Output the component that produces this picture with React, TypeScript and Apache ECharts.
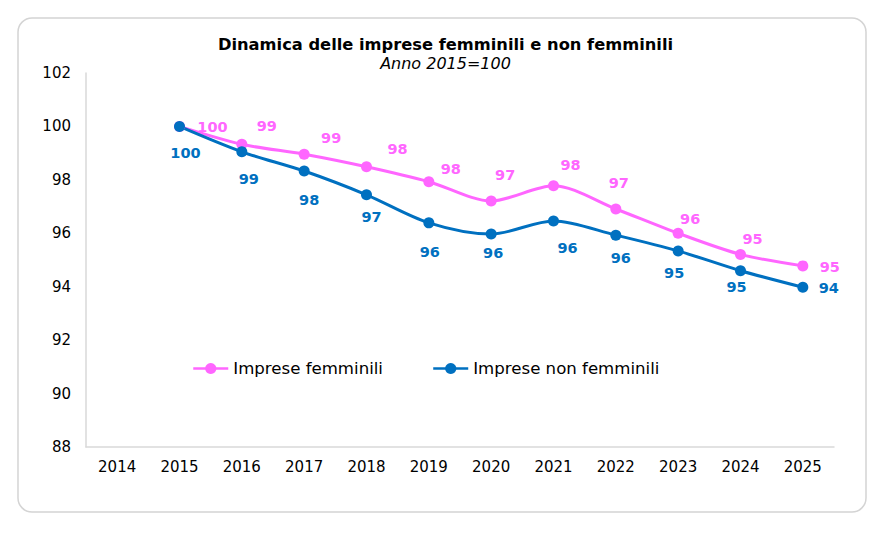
import React, { useEffect, useRef } from "react";
import * as echarts from "echarts";

const categories = ["2014", "2015", "2016", "2017", "2018", "2019", "2020", "2021", "2022", "2023", "2024", "2025"];
const femminili = [null, 100, 99.33, 98.96, 98.49, 97.93, 97.21, 97.78, 96.91, 96.0, 95.21, 94.78];
const nonFemminili = [null, 100, 99.05, 98.33, 97.44, 96.39, 95.97, 96.46, 95.93, 95.34, 94.6, 93.98];
const yTicks = { min: 88, max: 102, interval: 2 };

// label offsets relative to each point (style only)
const femLabelOffsets = [[0, 0], [33, 1], [25, -18], [27, -16], [31, -18], [22, -13], [14, -26], [17, -21], [3, -26], [12, -14], [12, -15], [27, 1]];
const nonLabelOffsets = [[0, 0], [6, 27], [7, 27], [5, 29], [5, 22], [1, 29], [2, 19], [14, 27], [5, 23], [-4, 22], [-4, 16], [26, 1]];

const PINK = "#FF66FF";
const BLUE = "#0070C0";
const FONT = "DejaVu Sans";

function buildData(values: (number | null)[], offsets: number[][], color: string) {
  return values.map((v, i) =>
    v === null
      ? "-"
      : {
          value: v,
          label: {
            show: true,
            position: "inside",
            offset: offsets[i],
            color,
            fontFamily: FONT,
            fontWeight: "bold",
            fontSize: 14.5,
            align: "center",
            verticalAlign: "middle",
            formatter: (p: any) => String(Math.round(p.value)),
          },
        }
  );
}

export default function App() {
  const ref = useRef<HTMLDivElement>(null);
  useEffect(() => {
    if (!ref.current) return;
    const chart = echarts.init(ref.current, null, { renderer: "svg" });
    chart.setOption({
      animation: false,
      backgroundColor: "#ffffff",
      textStyle: { fontFamily: FONT },
      graphic: [
        {
          type: "rect",
          shape: { x: 18, y: 18, width: 848, height: 494, r: 14 },
          style: { fill: "none", stroke: "#d4d4d4", lineWidth: 1.5 },
          silent: true,
        },
      ],
      title: {
        text: "Dinamica delle imprese femminili e non femminili",
        subtext: "Anno 2015=100",
        left: "center",
        top: 31,
        itemGap: 3,
        textStyle: { fontFamily: FONT, fontWeight: "bold", fontSize: 16.3, color: "#000" },
        subtextStyle: { fontFamily: FONT, fontStyle: "italic", fontSize: 16, color: "#000" },
      },
      legend: {
        left: 187,
        top: 355,
        itemWidth: 35,
        itemHeight: 14,
        itemGap: 49,
        lineStyle: { width: 2.5 },
        textStyle: { fontFamily: FONT, fontSize: 16.6, color: "#000" },
        data: ["Imprese femminili", "Imprese non femminili"],
      },
      grid: { left: 86, right: 57, top: 73, bottom: 87 },
      xAxis: {
        type: "category",
        data: categories,
        boundaryGap: true,
        axisLine: { lineStyle: { color: "#d9d9d9", width: 1.5 } },
        axisTick: { show: false },
        axisLabel: { color: "#000", fontFamily: FONT, fontSize: 15, margin: 12 },
        splitLine: { show: false },
      },
      yAxis: {
        type: "value",
        min: yTicks.min,
        max: yTicks.max,
        interval: yTicks.interval,
        axisLine: { show: true, lineStyle: { color: "#d9d9d9", width: 1.5 } },
        axisTick: { show: false },
        axisLabel: { color: "#000", fontFamily: FONT, fontSize: 15, margin: 15 },
        splitLine: { show: false },
      },
      series: [
        {
          name: "Imprese femminili",
          type: "line",
          data: buildData(femminili, femLabelOffsets, PINK),
          smooth: 0.3,
          symbol: "circle",
          symbolSize: 11,
          lineStyle: { color: PINK, width: 3 },
          itemStyle: { color: PINK },
          color: PINK,
        },
        {
          name: "Imprese non femminili",
          type: "line",
          data: buildData(nonFemminili, nonLabelOffsets, BLUE),
          smooth: 0.3,
          symbol: "circle",
          symbolSize: 11,
          lineStyle: { color: BLUE, width: 3 },
          itemStyle: { color: BLUE },
          color: BLUE,
        },
      ],
    });
    return () => chart.dispose();
  }, []);
  return (
    <div
      ref={ref}
      style={{ position: "absolute", left: 0, top: 0, width: 891, height: 534 }}
    />
  );
}
